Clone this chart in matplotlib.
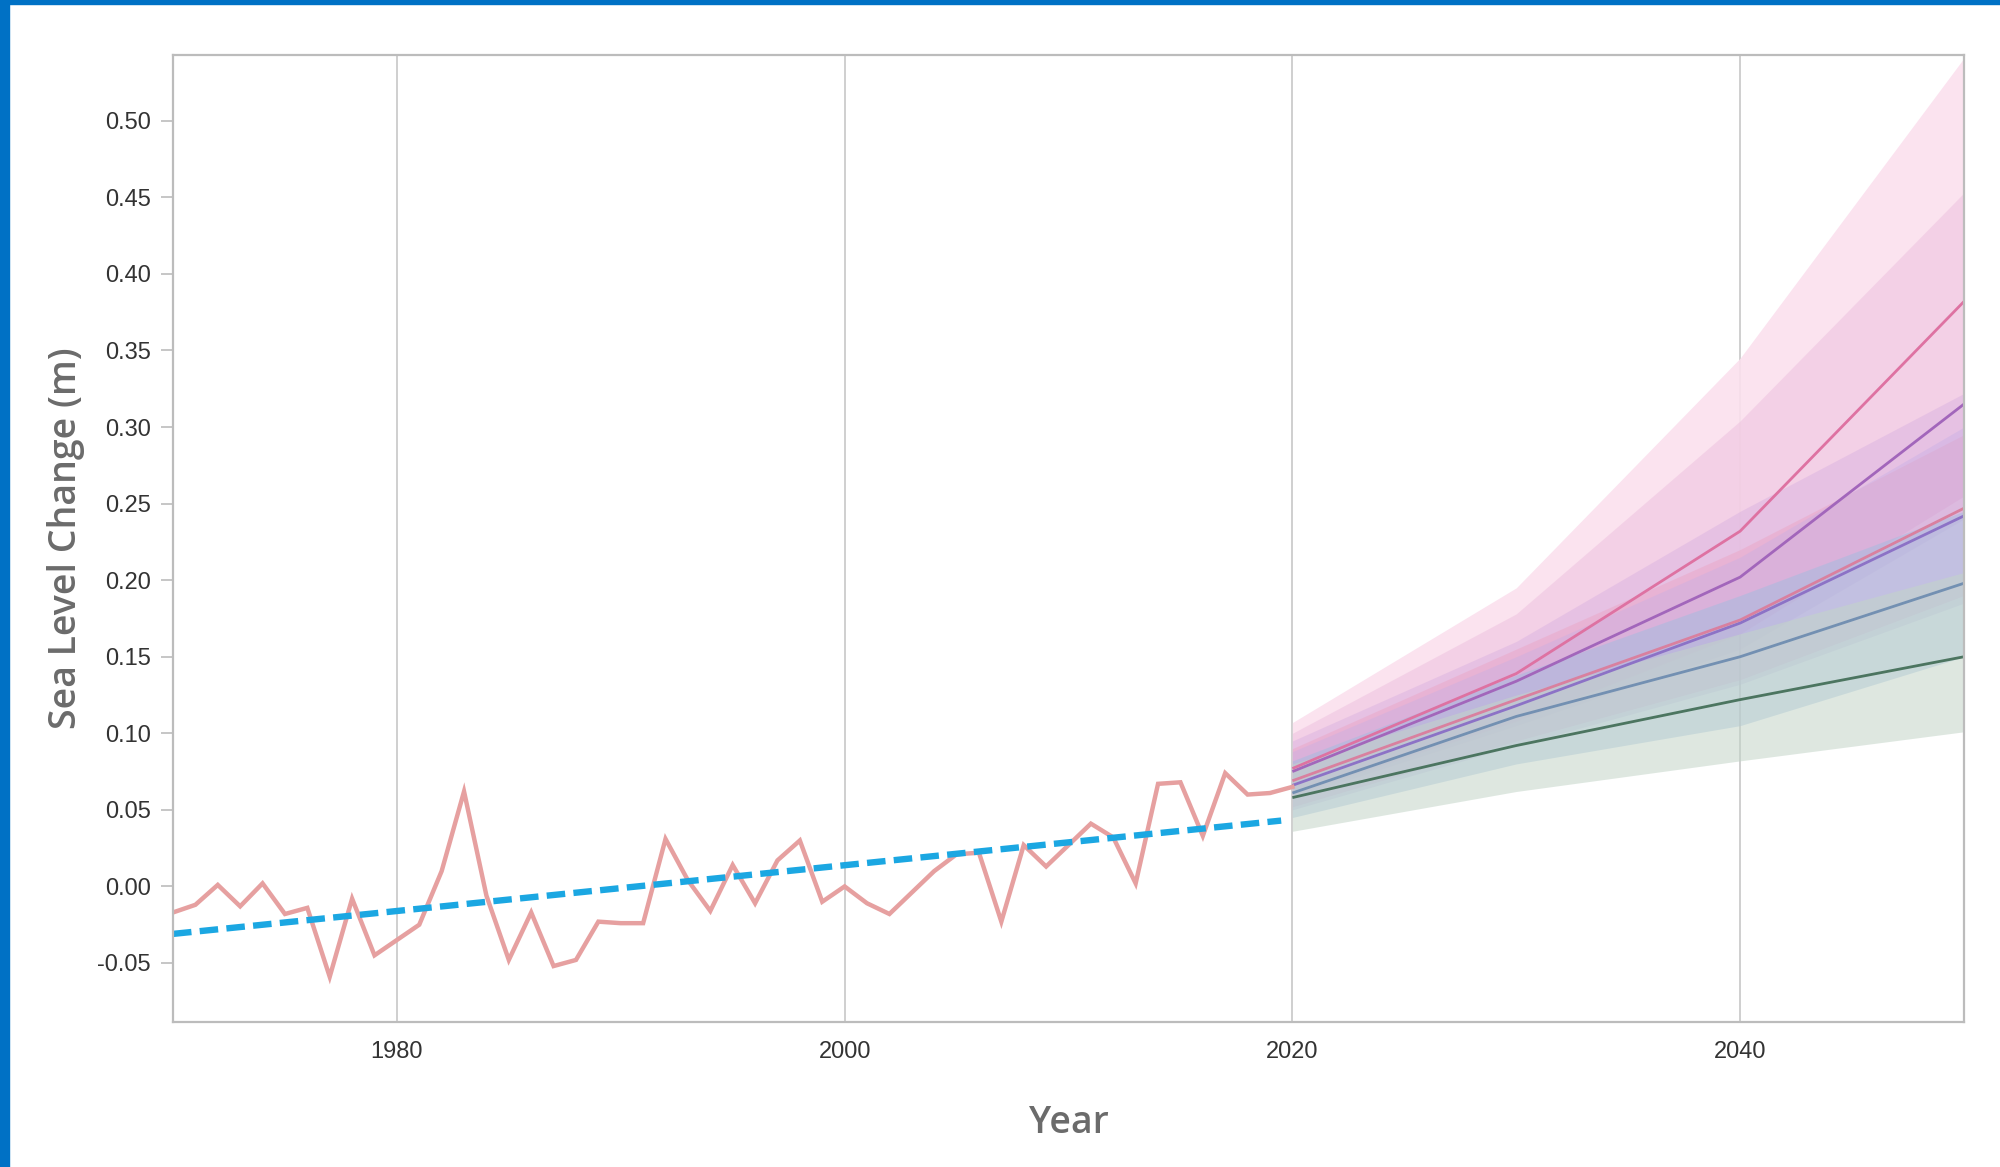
import numpy as np
import matplotlib
matplotlib.use("Agg")
import matplotlib.pyplot as plt
from matplotlib.patches import Rectangle

# ------------------
# Data
# ------------------
hist_years = list(range(1970, 2021))
hist_vals = [
    -0.017, -0.012, 0.001, -0.013, 0.002, -0.018, -0.014, -0.059, -0.008, -0.045,
    -0.035, -0.025, 0.010, 0.062, -0.006, -0.048, -0.017, -0.052, -0.048, -0.023,
    -0.024, -0.024, 0.031, 0.004, -0.016, 0.014, -0.011, 0.017, 0.030, -0.010,
    0.000, -0.011, -0.018, -0.004, 0.010, 0.021, 0.022, -0.023, 0.027, 0.013,
    0.027, 0.041, 0.032, 0.002, 0.067, 0.068, 0.033, 0.074, 0.060, 0.061,
    0.065,
]

trend_years = [1970, 2019.5]
trend_vals = [-0.031, 0.043]

proj_years = [2020, 2030, 2040, 2050]

green_med = [0.058, 0.092, 0.122, 0.150]
green_low = [0.036, 0.062, 0.082, 0.101]
green_high = [0.080, 0.125, 0.165, 0.205]

bluegrey_med = [0.061, 0.111, 0.150, 0.198]
bluegrey_low = [0.045, 0.080, 0.105, 0.150]
bluegrey_high = [0.082, 0.138, 0.190, 0.245]

purpleblue_med = [0.066, 0.118, 0.172, 0.242]
purpleblue_low = [0.050, 0.092, 0.132, 0.185]
purpleblue_high = [0.088, 0.150, 0.215, 0.300]

pinkred_med = [0.069, 0.122, 0.174, 0.247]
pinkred_low = [0.052, 0.095, 0.135, 0.190]
pinkred_high = [0.090, 0.155, 0.220, 0.295]

purple_med = [0.075, 0.134, 0.202, 0.315]
purple_low = [0.058, 0.105, 0.155, 0.240]
purple_high = [0.095, 0.160, 0.245, 0.322]

pink_med = [0.077, 0.139, 0.232, 0.382]
pink_low = [0.060, 0.108, 0.165, 0.255]
pink_high = [0.100, 0.178, 0.304, 0.453]
pink_outer = [0.107, 0.195, 0.345, 0.541]

x_ticks = [1980, 2000, 2020, 2040]
x_labels = ["1980", "2000", "2020", "2040"]
y_ticks = [-0.05, 0.00, 0.05, 0.10, 0.15, 0.20, 0.25, 0.30, 0.35, 0.40, 0.45, 0.50]
y_labels = ["-0.05", "0.00", "0.05", "0.10", "0.15", "0.20", "0.25", "0.30",
            "0.35", "0.40", "0.45", "0.50"]

# ------------------
# Plot
# ------------------
fig = plt.figure(figsize=(20, 11.67), dpi=100)
fig.patch.set_facecolor("white")
ax = fig.add_axes([0.0865, 0.1243, 0.8955, 0.8286])

# outer low-confidence band first, then scenario bands
ax.fill_between(proj_years, pink_low, pink_outer, color="#fbe0ee", alpha=0.9, lw=0)
bands = [
    (pink_low, pink_high, "#eec2df", 0.55),
    (purple_low, purple_high, "#d8b0e0", 0.45),
    (pinkred_low, pinkred_high, "#eca4c2", 0.45),
    (purpleblue_low, purpleblue_high, "#c4aee6", 0.38),
    (bluegrey_low, bluegrey_high, "#a2bcdf", 0.50),
    (green_low, green_high, "#c3d5c8", 0.55),
]
for lo, hi, c, a in bands:
    ax.fill_between(proj_years, lo, hi, color=c, alpha=a, lw=0)

lines = [
    (green_med, "#4c7560"),
    (bluegrey_med, "#7390b2"),
    (purpleblue_med, "#8c72c6"),
    (pinkred_med, "#d9809f"),
    (purple_med, "#a266bb"),
    (pink_med, "#de72a2"),
]
for med, c in lines:
    ax.plot(proj_years, med, color=c, lw=2.0, solid_capstyle="butt")

# historical
ax.plot(hist_years, hist_vals, color="#e6a0a0", lw=3.2, solid_joinstyle="miter")
ax.plot(trend_years, trend_vals, color="#1ba7e2", lw=4.6, dashes=(2.9, 1.3),
        dash_capstyle="butt")

ax.set_xlim(1970, 2050)
ax.set_ylim(-0.0885, 0.543)

ax.set_xticks(x_ticks)
ax.set_xticklabels(x_labels)
ax.set_yticks(y_ticks)
ax.set_yticklabels(y_labels)

ax.grid(axis="x", color="#cccccc", lw=1.3)
ax.set_axisbelow(True)

for s in ax.spines.values():
    s.set_color("#bcbcbc")
    s.set_linewidth(1.6)

ax.tick_params(axis="x", length=0, pad=14, labelsize=17, labelcolor="#333333")
ax.tick_params(axis="y", length=9, width=1.2, color="#bcbcbc", pad=7,
               labelsize=17, labelcolor="#333333")
for lab in ax.get_xticklabels() + ax.get_yticklabels():
    lab.set_family("Liberation Sans")

ax.set_xlabel("Year", family="Open Sans", fontsize=27, fontweight="semibold",
              color="#6b6b6b", labelpad=29)
ax.set_ylabel("Sea Level Change (m)", family="Open Sans", fontsize=27,
              fontweight="semibold", color="#6b6b6b", labelpad=9)

# blue frame on left and top
fig.patches.append(Rectangle((0, 0), 9 / 2000, 1, transform=fig.transFigure,
                             color="#0071c5", zorder=10))
fig.patches.append(Rectangle((0, 1 - 4 / 1167), 1, 4 / 1167,
                             transform=fig.transFigure, color="#0071c5", zorder=10))

fig.savefig("out.png", dpi=100)
